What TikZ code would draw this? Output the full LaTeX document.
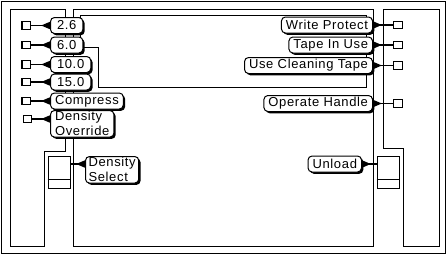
\documentclass[tikz,border=0pt]{standalone}
\usepackage{fontspec}
\setmainfont{Liberation Sans}[LetterSpace=5]
\usetikzlibrary{arrows.meta,positioning,shadows}

\begin{document}
\begin{tikzpicture}[
  x=1pt,y=-1pt,
  font=\fontsize{13}{15}\selectfont,
  line width=0.8pt,
  callout/.style={draw,line width=1pt,rounded corners=4pt,fill=white,
                  inner xsep=4.5pt,inner ysep=1pt,minimum height=16pt,align=left,
                  drop shadow={shadow xshift=1.8pt,shadow yshift=-1.8pt,opacity=1,fill=black}},
  numbox/.style={callout,inner xsep=6.5pt},
  led/.style={draw,line width=1.2pt,fill=white,minimum width=8.5pt,minimum height=7.5pt,inner sep=0pt},
  ptr/.style={line width=1.6pt,-{Triangle[reversed,length=9pt,width=7pt]}},
  knob/.style={draw,fill=white,minimum width=22pt,minimum height=32pt,inner sep=0pt}
]
\useasboundingbox (0,0) rectangle (447,255);

% housing and panels
\draw (1,1) rectangle (445,253);
\draw (10,9.5) -- (65,9.5) -- (65,151) -- (44,151) -- (44,246) -- (10,246) -- cycle;
\draw (383,9.5) -- (439,9.5) -- (439,246) -- (403,246) -- (403,148) -- (383,148) -- cycle;
\draw (73,9.5) rectangle (373,246);
\draw (80,15) -- (366,15) -- (366,87) -- (98,87) -- (98,47) -- (80,47) -- cycle;

% left labels
\node[numbox,anchor=west] (l26) at (50,25.5) {2.6};
\node[numbox,anchor=west] (l60) at (50,45) {6.0};
\node[numbox,anchor=west] (l100) at (50,64.5) {10.0};
\node[numbox,anchor=west] (l150) at (50,82) {15.0};
\node[callout,anchor=west] (lcmp) at (50,101) {Compress};
\node[callout,anchor=north west] (ldo) at (50,110) {Density\\Override};

% right labels
\node[callout,anchor=east] (rwp) at (373,25) {Write Protect};
\node[callout,anchor=east] (rtiu) at (373,45) {Tape In Use};
\node[callout,anchor=east] (ruct) at (373,65.5) {Use Cleaning Tape};
\node[callout,anchor=east] (roh) at (373,103.5) {Operate Handle};

% indicators
\node[led,left=19pt of l26] (d26) {};
\node[led,left=19pt of l60] (d60) {};
\node[led,left=19pt of l100] (d100) {};
\node[led,left=19pt of l150] (d150) {};
\node[led,left=19pt of lcmp] (dcmp) {};
\node[led] (ddo) at (27.5,119) {};
\node[led,right=20pt of rwp] (dwp) {};
\node[led,right=20pt of rtiu] (dtiu) {};
\node[led,right=20pt of ruct] (duct) {};
\node[led,right=20pt of roh] (doh) {};

\foreach \d/\l in {d26/l26,d60/l60,d100/l100,d150/l150,dcmp/lcmp,ddo/ldo}
  \draw[ptr] (\d.east) -- (\d.east -| \l.west);
\foreach \d/\l in {dwp/rwp,dtiu/rtiu,duct/ruct,doh/roh}
  \draw[ptr] (\d.west) -- (\d.west -| \l.east);

% buttons
\node[knob] (kds) at (59,172) {};
\node[knob] (kul) at (388,172) {};
\draw ([yshift=9pt]kds.south west) -- ([yshift=9pt]kds.south east);
\draw ([yshift=9pt]kul.south west) -- ([yshift=9pt]kul.south east);

\node[callout,anchor=north west,inner xsep=3pt] (lds) at (85,156) {Density\\Select};
\node[callout,anchor=east] (lul) at (362,164) {Unload};
\coordinate (cds) at (kds.east |- 0,164);
\draw[ptr] (cds) -- (cds -| lds.west);
\draw[ptr] (kul.west |- lul) -- (lul.east);

\end{tikzpicture}
\end{document}
